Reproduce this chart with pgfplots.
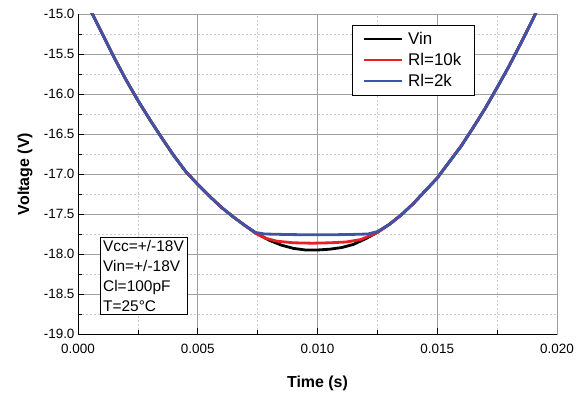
\documentclass[border=0pt]{standalone}
\usepackage{fontspec}
\setmainfont{Liberation Sans}
\usepackage{pgfplots}
\pgfplotsset{compat=1.18}
\definecolor{cred}{RGB}{235,30,35}
\definecolor{cblue}{RGB}{62,84,168}
\definecolor{majg}{RGB}{160,160,160}
\definecolor{ming}{RGB}{205,205,205}
\newcommand{\lgf}{\fontsize{17}{19}\selectfont}
\begin{document}
\begin{tikzpicture}
\begin{axis}[
  name=ax,
  scale only axis,
  width=479bp, height=320bp,
  xmin=0, xmax=0.020, ymin=-19, ymax=-15,
  xtick distance=0.005, ytick distance=0.5,
  minor x tick num=1, minor y tick num=1,
  scaled x ticks=false,
  xticklabel style={yshift=-7bp, /pgf/number format/.cd, fixed, fixed zerofill, precision=3},
  yticklabel style={/pgf/number format/.cd, fixed, fixed zerofill, precision=1},
  /pgf/number format/assume math mode=true,
  ticklabel style={font=\fontsize{13.5}{15}\selectfont},
  tick align=inside,
  tick pos=left,
  major tick length=6bp, minor tick length=4bp,
  every tick/.style={black, line width=0.6bp},
  grid=both,
  major grid style={majg, line width=0.6bp},
  minor grid style={ming, line width=0.6bp, dash pattern=on 2bp off 2bp},
  axis line style={majg, line width=0.6bp},
  xlabel={\textbf{Time (s)}},
  ylabel={\textbf{Voltage (V)}},
  label style={font=\fontsize{16}{18}\selectfont},
  xlabel style={at={(axis description cs:0.5,-0.153)}, anchor=center},
  ylabel style={at={(axis description cs:-0.1107,0.5)}, anchor=center},
  legend style={at={(0.572,0.966)}, anchor=north west, draw=black, fill=white,
    inner xsep=11bp, inner ysep=5bp, row sep=3.5bp,
    /tikz/every odd column/.append style={column sep=3bp}},
  legend cell align=left,
  legend image code/.code={\draw[#1, line width=2bp] (0bp,0bp) -- (38bp,0bp);},
]
\addplot[black, line width=2.8bp] coordinates {
(0.0000,-14.62) (0.0005,-14.94) (0.0010,-15.24) (0.0015,-15.54) (0.0020,-15.82)
(0.0025,-16.08) (0.0030,-16.32) (0.0035,-16.55) (0.0040,-16.77) (0.0045,-16.97)
(0.0050,-17.13) (0.0055,-17.28) (0.0060,-17.42) (0.0065,-17.54) (0.0070,-17.65)
(0.0075,-17.75) (0.0080,-17.83) (0.0085,-17.89) (0.0090,-17.93) (0.0095,-17.95)
(0.0100,-17.95) (0.0105,-17.94) (0.0110,-17.92) (0.0115,-17.88) (0.0120,-17.81)
(0.0125,-17.73) (0.0130,-17.63) (0.0135,-17.51) (0.0140,-17.37) (0.0145,-17.21)
(0.0150,-17.05) (0.0155,-16.85) (0.0160,-16.65) (0.0165,-16.42) (0.0170,-16.18)
(0.0175,-15.92) (0.0180,-15.65) (0.0185,-15.36) (0.0190,-15.06) (0.0195,-14.74)
};
\addlegendentry{\lgf Vin}
\addplot[cred, line width=2.8bp] coordinates {
(0.0000,-14.62) (0.0005,-14.94) (0.0010,-15.24) (0.0015,-15.54) (0.0020,-15.82)
(0.0025,-16.08) (0.0030,-16.32) (0.0035,-16.55) (0.0040,-16.77) (0.0045,-16.97)
(0.0050,-17.13) (0.0055,-17.28) (0.0060,-17.42) (0.0065,-17.54) (0.0070,-17.65)
(0.0074,-17.74) (0.0078,-17.80) (0.0083,-17.84) (0.0090,-17.86) (0.0098,-17.865)
(0.0105,-17.86) (0.0112,-17.85) (0.0118,-17.82) (0.0122,-17.77) (0.0125,-17.73)
(0.0130,-17.63) (0.0135,-17.51) (0.0140,-17.37) (0.0145,-17.21)
(0.0150,-17.05) (0.0155,-16.85) (0.0160,-16.65) (0.0165,-16.42) (0.0170,-16.18)
(0.0175,-15.92) (0.0180,-15.65) (0.0185,-15.36) (0.0190,-15.06) (0.0195,-14.74)
};
\addlegendentry{\lgf Rl=10k}
\addplot[cblue, line width=2.8bp] coordinates {
(0.0000,-14.62) (0.0005,-14.94) (0.0010,-15.24) (0.0015,-15.54) (0.0020,-15.82)
(0.0025,-16.08) (0.0030,-16.32) (0.0035,-16.55) (0.0040,-16.77) (0.0045,-16.97)
(0.0050,-17.13) (0.0055,-17.28) (0.0060,-17.42) (0.0065,-17.54) (0.0070,-17.65)
(0.0074,-17.73) (0.0078,-17.75) (0.0085,-17.755) (0.0095,-17.76) (0.0105,-17.76)
(0.0115,-17.755) (0.0121,-17.75) (0.0125,-17.72) (0.0130,-17.63) (0.0135,-17.51)
(0.0140,-17.37) (0.0145,-17.21)
(0.0150,-17.05) (0.0155,-16.85) (0.0160,-16.65) (0.0165,-16.42) (0.0170,-16.18)
(0.0175,-15.92) (0.0180,-15.65) (0.0185,-15.36) (0.0190,-15.06) (0.0195,-14.74)
};
\addlegendentry{\lgf Rl=2k}
\draw[black, line width=0.8bp] (rel axis cs:0,1) -- (rel axis cs:0,0) -- (rel axis cs:1,0);
\node[draw=black, fill=white, align=left, anchor=north west, inner sep=3bp,
  font=\fontsize{15.5}{20}\selectfont] at (axis cs:0.000917,-17.79)
  {Vcc=+/-18V\\Vin=+/-18V\\Cl=100pF\\T=25°C};
\end{axis}
\path ([shift={(-78bp,-69bp)}]ax.south west) rectangle ([shift={(27bp,14bp)}]ax.north east);
\end{tikzpicture}
\end{document}
